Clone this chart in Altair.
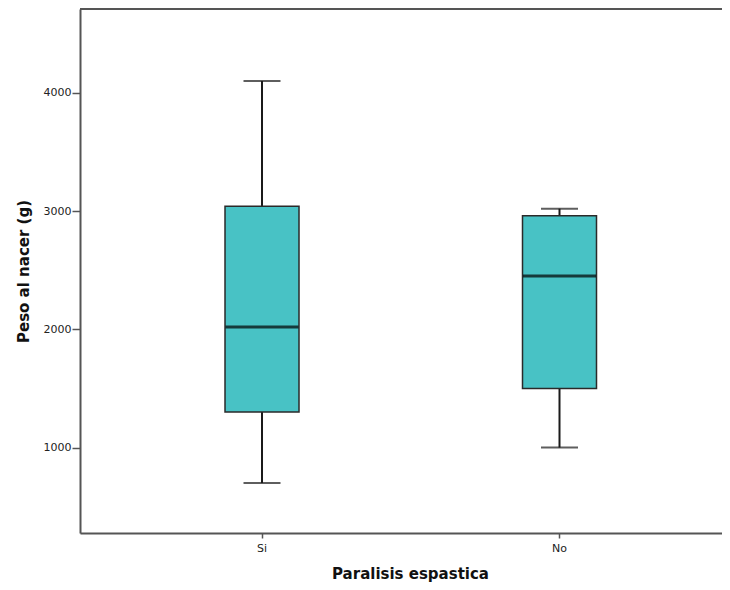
import altair as alt
import pandas as pd

# Summary values (g)
groups = ["Si", "No"]
minimum = [700, 1000]
q1 = [1300, 1500]
median = [2020, 2450]
q3 = [3040, 2960]
maximum = [4100, 3020]

y_ticks = [1000, 2000, 3000, 4000]

df = pd.DataFrame({
    "grupo": groups,
    "min": minimum,
    "q1": q1,
    "med": median,
    "q3": q3,
    "max": maximum,
})

FONT = "DejaVu Sans"
W, H = 642, 524

x_enc = alt.X(
    "grupo:N",
    sort=groups,
    scale=alt.Scale(domain=groups, paddingInner=0, paddingOuter=0.079, align=0.7075),
    axis=alt.Axis(
        title="Paralisis espastica",
        labelAngle=0,
        labelFont=FONT,
        labelFontSize=11,
        labelColor="#222222",
        labelPadding=4,
        tickSize=5,
        tickColor="#555555",
        tickWidth=1.5,
        domainColor="#555555",
        domainWidth=2,
        titleFont=FONT,
        titleFontSize=15,
        titleFontWeight="bold",
        titleColor="#111111",
        titleX=330,
        titleY=45,
        titleAlign="center",
        titleBaseline="alphabetic",
    ),
)

y_scale = alt.Scale(domain=[278, 4708], nice=False, zero=False)
y_axis = alt.Axis(
    title="Peso al nacer (g)",
    values=y_ticks,
    format="d",
    grid=False,
    labelFont=FONT,
    labelFontSize=11,
    labelColor="#222222",
    labelPadding=1,
    tickSize=8,
    tickColor="#555555",
    tickWidth=1.5,
    domainColor="#555555",
    domainWidth=2,
    titleFont=FONT,
    titleFontSize=15,
    titleFontWeight="bold",
    titleColor="#111111",
    titleAngle=270,
    titleX=-52,
    titleY=262,
    titleAlign="center",
    titleBaseline="alphabetic",
)

base = alt.Chart(df)

whisker = base.mark_rule(color="#1a1a1a", strokeWidth=2).encode(
    x=x_enc,
    y=alt.Y("min:Q", scale=y_scale, axis=y_axis),
    y2="max:Q",
)

caps_low = base.mark_tick(color="#1a1a1a", size=37, thickness=2, orient="horizontal").encode(
    x=alt.X("grupo:N", sort=groups),
    y=alt.Y("min:Q"),
)
caps_high = base.mark_tick(color="#1a1a1a", size=37, thickness=2, orient="horizontal").encode(
    x=alt.X("grupo:N", sort=groups),
    y=alt.Y("max:Q"),
)

box = base.mark_bar(
    width=74, color="#48C2C5", stroke="#2a2a2a", strokeWidth=1.5
).encode(
    x=alt.X("grupo:N", sort=groups),
    y=alt.Y("q1:Q"),
    y2="q3:Q",
)

med = base.mark_tick(color="#000000", size=73, thickness=3, orient="horizontal").encode(
    x=alt.X("grupo:N", sort=groups),
    y=alt.Y("med:Q"),
)

top_border = alt.Chart(df).mark_rule(color="#555555", strokeWidth=2).encode(
    x=alt.value(0), x2=alt.value(W), y=alt.value(0)
)

chart = (
    alt.layer(whisker, caps_low, caps_high, box, med, top_border)
    .properties(
        width=W,
        height=H,
        padding={"left": 72, "top": 1, "right": 0, "bottom": 49},
        autosize=alt.AutoSizeParams(type="none"),
        background="white",
    )
    .configure_view(stroke=None)
    .configure(font=FONT)
)

chart.save("out.html", embed_options={"renderer": "svg", "actions": False})
